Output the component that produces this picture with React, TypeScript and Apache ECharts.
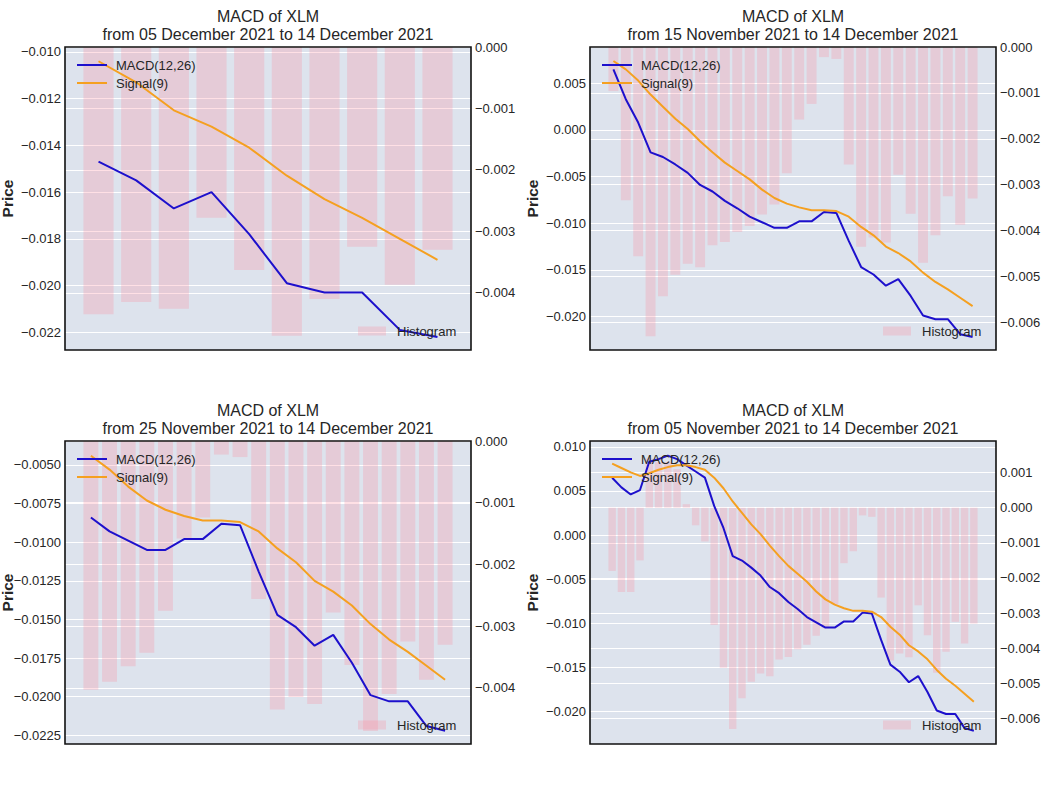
import React, { useEffect, useRef } from "react";
import * as echarts from "echarts";

// ---- data (05 Nov 2021 .. 14 Dec 2021, 40 daily points) ----
const macdValues = [
  0.0065, 0.0054, 0.0046, 0.0051, 0.0083, 0.0086, 0.009, 0.0086, 0.0079, 0.0072,
  0.0065, 0.0033, 0.0008, -0.0024, -0.0029, -0.0037, -0.0046, -0.0059, -0.0066, -0.0076,
  -0.0084, -0.0093, -0.0099, -0.0105, -0.0105, -0.0098, -0.0098, -0.0088, -0.0089, -0.0119,
  -0.0147, -0.0155, -0.0167, -0.016, -0.0178, -0.0199, -0.0203, -0.0203, -0.0219, -0.0222,
];
const signalValues = [
  0.0081, 0.0076, 0.0071, 0.0067, 0.007, 0.0074, 0.0077, 0.0079, 0.0079, 0.0077,
  0.0074, 0.0065, 0.0053, 0.0038, 0.0025, 0.0012, 0.0001, -0.0012, -0.0024, -0.0035,
  -0.0044, -0.0053, -0.0064, -0.0073, -0.0079, -0.0083, -0.0086, -0.0086, -0.0087, -0.0093,
  -0.0104, -0.0113, -0.0125, -0.0132, -0.0141, -0.0153, -0.0163, -0.0171, -0.018, -0.0189,
];
const histValues = [
  -0.0018, -0.0024, -0.0024, -0.0015, 0.0014, 0.0013, 0.0013, 0.0011, 0.0001, -0.0005,
  -0.00096, -0.00334, -0.00456, -0.0063, -0.00543, -0.00496, -0.00472, -0.0048, -0.00432, -0.00425,
  -0.00403, -0.0039, -0.00365, -0.00343, -0.00275, -0.00158, -0.00124, -0.00022, -0.00026, -0.00256,
  -0.00435, -0.00415, -0.00426, -0.00278, -0.00363, -0.0047, -0.0041, -0.00325, -0.00387, -0.0033,
];

// window lengths (days) for the four panels: top-left, top-right, bottom-left, bottom-right
const windowDays = [10, 30, 20, 40];
const subTitles = [
  "from 05 December 2021 to 14 December 2021",
  "from 15 November 2021 to 14 December 2021",
  "from 25 November 2021 to 14 December 2021",
  "from 05 November 2021 to 14 December 2021",
];

// tick labels
const leftTicks = [
  [-0.022, -0.02, -0.018, -0.016, -0.014, -0.012, -0.01],
  [-0.02, -0.015, -0.01, -0.005, 0, 0.005],
  [-0.0225, -0.02, -0.0175, -0.015, -0.0125, -0.01, -0.0075, -0.005],
  [-0.02, -0.015, -0.01, -0.005, 0, 0.005, 0.01],
];
const rightTicks = [
  [-0.004, -0.003, -0.002, -0.001, 0],
  [-0.006, -0.005, -0.004, -0.003, -0.002, -0.001, 0],
  [-0.004, -0.003, -0.002, -0.001, 0],
  [-0.006, -0.005, -0.004, -0.003, -0.002, -0.001, 0, 0.001],
];
const leftRanges = [
  [-0.02276, -0.00979],
  [-0.0236, 0.0089],
  [-0.02306, -0.00345],
  [-0.0237, 0.01066],
];
const rightRanges = [
  [-0.00493, 0],
  [-0.0066, 0],
  [-0.00491, 0],
  [-0.00673, 0.0019],
];
const leftDecimals = [3, 3, 4, 3];

// ---- layout ----
const FONT = "'Liberation Sans', Arial, Helvetica, sans-serif";
const TEXT = "#262626";
const PLOT_W = 406;
const PLOT_H = 303;
const offsets = [
  [0, 0],
  [525, 0],
  [0, 394],
  [525, 394],
];
const priceX = [7, 532, 7, 532];

function fmt(dec: number) {
  return (v: number) => {
    const s = Math.abs(v) < 1e-12 ? (0).toFixed(dec) : v.toFixed(dec);
    return s.replace("-", "\u2212");
  };
}

function buildOption() {
  const grid: any[] = [];
  const xAxis: any[] = [];
  const yAxis: any[] = [];
  const series: any[] = [];
  const title: any[] = [];
  const legend: any[] = [];
  const graphic: any[] = [];

  windowDays.forEach((n, k) => {
    const [ox, oy] = offsets[k];
    const left = 65 + ox;
    const top = 47 + oy;
    const start = macdValues.length - n;
    const xmin = -0.4 - 0.05 * (n - 0.2);
    const xmax = n - 0.6 + 0.05 * (n - 0.2);
    const barW = (0.8 * PLOT_W) / (1.1 * (n - 0.2));

    grid.push({
      left,
      top,
      width: PLOT_W,
      height: PLOT_H,
      show: true,
      backgroundColor: "#dde3ed",
      borderWidth: 0,
      containLabel: false,
    });
    xAxis.push({
      type: "value",
      gridIndex: k,
      min: xmin,
      max: xmax,
      show: false,
    });
    const axisCommon = {
      type: "value",
      gridIndex: k,
      axisLine: { show: false },
      splitLine: { show: true, lineStyle: { color: "#ffffff", width: 1.2 } },
    };
    yAxis.push({
      ...axisCommon,
      position: "left",
      min: leftRanges[k][0],
      max: leftRanges[k][1],
      axisTick: { show: false, customValues: leftTicks[k] },
      axisLabel: {
        customValues: leftTicks[k],
        formatter: fmt(leftDecimals[k]),
        color: TEXT,
        fontSize: 13,
        fontFamily: FONT,
        margin: 4,
      },
    });
    yAxis.push({
      ...axisCommon,
      position: "right",
      min: rightRanges[k][0],
      max: rightRanges[k][1],
      axisTick: { show: false, customValues: rightTicks[k] },
      axisLabel: {
        customValues: rightTicks[k],
        formatter: fmt(3),
        color: TEXT,
        fontSize: 13,
        fontFamily: FONT,
        margin: 4,
      },
    });

    series.push({
      name: "Histogram",
      type: "bar",
      xAxisIndex: k,
      yAxisIndex: 2 * k + 1,
      barWidth: barW,
      itemStyle: { color: "rgba(255,130,150,0.25)" },
      data: histValues.slice(start).map((v, i) => [i, v]),
      z: 1,
    });
    series.push({
      name: "MACD(12,26)",
      type: "line",
      xAxisIndex: k,
      yAxisIndex: 2 * k,
      symbol: "none",
      lineStyle: { color: "#1d10cc", width: 2 },
      itemStyle: { color: "#1d10cc" },
      data: macdValues.slice(start).map((v, i) => [i, v]),
      z: 3,
    });
    series.push({
      name: "Signal(9)",
      type: "line",
      xAxisIndex: k,
      yAxisIndex: 2 * k,
      symbol: "none",
      lineStyle: { color: "#f5a020", width: 2 },
      itemStyle: { color: "#f5a020" },
      data: signalValues.slice(start).map((v, i) => [i, v]),
      z: 3,
    });

    title.push({
      text: "MACD of XLM\n" + subTitles[k],
      left: left + PLOT_W / 2,
      top: 7 + oy,
      textAlign: "center",
      padding: 0,
      textStyle: {
        fontSize: 16,
        fontWeight: "normal",
        color: TEXT,
        fontFamily: FONT,
        lineHeight: 18,
      },
    });

    legend.push({
      orient: "vertical",
      left: left + 12,
      top: 58 + oy,
      padding: 0,
      icon: "rect",
      itemWidth: 30,
      itemHeight: 2,
      itemGap: 4,
      selectedMode: false,
      data: ["MACD(12,26)", "Signal(9)"],
      textStyle: {
        fontSize: 13,
        color: TEXT,
        fontFamily: FONT,
        lineHeight: 14,
        padding: [0, 0, 0, 4],
      },
    });
    legend.push({
      orient: "vertical",
      left: left + 293,
      top: 324 + oy,
      padding: 0,
      itemWidth: 28,
      itemHeight: 9,
      icon: "rect",
      selectedMode: false,
      data: ["Histogram"],
      textStyle: {
        fontSize: 13,
        color: TEXT,
        fontFamily: FONT,
        lineHeight: 14,
        padding: [0, 0, 0, 6],
      },
    });

    graphic.push({
      type: "rect",
      shape: { x: left, y: top, width: PLOT_W, height: PLOT_H },
      style: { fill: "none", stroke: "#111111", lineWidth: 1.6 },
      z: 100,
      silent: true,
    });
    graphic.push({
      type: "text",
      x: priceX[k],
      y: top + PLOT_H / 2,
      rotation: Math.PI / 2,
      style: {
        text: "Price",
        fontSize: 15.5,
        fontWeight: "bold",
        fontFamily: FONT,
        fill: TEXT,
        align: "center",
        verticalAlign: "middle",
      },
      z: 100,
      silent: true,
    });
  });

  return {
    animation: false,
    backgroundColor: "#ffffff",
    textStyle: { fontFamily: FONT },
    title,
    legend,
    grid,
    xAxis,
    yAxis,
    series,
    graphic,
  };
}

export default function App() {
  const ref = useRef<HTMLDivElement>(null);
  useEffect(() => {
    document.body.style.margin = "0";
    if (!ref.current) return;
    const chart = echarts.init(ref.current, undefined, { renderer: "svg" });
    chart.setOption(buildOption() as any);
    return () => chart.dispose();
  }, []);
  return <div ref={ref} style={{ width: 1051, height: 788 }} />;
}
